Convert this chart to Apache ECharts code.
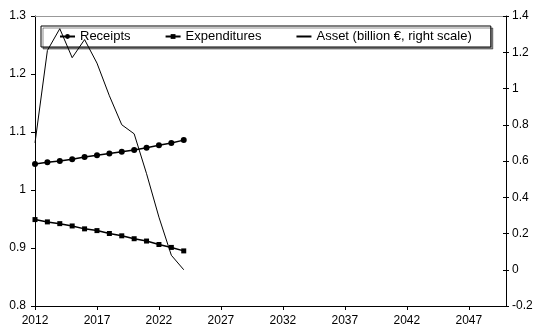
<!DOCTYPE html>
<html>
<head>
<meta charset="utf-8">
<script src="https://cdn.jsdelivr.net/npm/echarts@6/dist/echarts.min.js"></script>
<style>
  html, body { margin: 0; padding: 0; background: #fff; }
  #chart { width: 537px; height: 331px; }
</style>
</head>
<body>
<div id="chart"></div>
<script>
// values
const years = [2012, 2013, 2014, 2015, 2016, 2017, 2018, 2019, 2020, 2021, 2022, 2023, 2024]
const receipts = [1.045, 1.048, 1.050, 1.053, 1.057, 1.060, 1.063, 1.066, 1.069, 1.073, 1.077, 1.081, 1.086]
const expenditures = [0.949, 0.945, 0.942, 0.938, 0.933, 0.930, 0.925, 0.921, 0.916, 0.912, 0.906, 0.901, 0.895]
const asset = [0.70, 1.21, 1.33, 1.17, 1.27, 1.14, 0.96, 0.80, 0.75, 0.53, 0.29, 0.08, 0.00]
const leftTicks = { min: 0.8, max: 1.3, step: 0.1 }
const rightTicks = { min: -0.2, max: 1.4, step: 0.2 }

const pairs = vals => years.map((y, i) => [y, vals[i]])
const font = 'Liberation Sans, Arial, sans-serif'

const chart = echarts.init(document.getElementById('chart'), null, { renderer: 'canvas' })
chart.setOption({
  backgroundColor: '#fff',
  animation: false,
  textStyle: { fontFamily: font },
  grid: { left: 35, right: 31, top: 16, bottom: 25 },
  legend: {
    left: 41,
    top: 26,
    padding: [4, 19, 4, 18],
    itemGap: 34,
    itemWidth: 15,
    itemHeight: 6,
    backgroundColor: '#fff',
    borderColor: '#000',
    borderWidth: 1,
    borderRadius: 0,
    shadowColor: 'rgba(0,0,0,0.45)',
    shadowBlur: 0,
    shadowOffsetX: 2,
    shadowOffsetY: 2,
    textStyle: { fontSize: 13, color: '#000', fontFamily: font },
    data: [
      'Receipts',
      'Expenditures',
      { name: 'Asset (billion €, right scale)', itemStyle: { color: 'rgba(0,0,0,0)', borderColor: 'rgba(0,0,0,0)', borderWidth: 0 } }
    ]
  },
  xAxis: [{
    type: 'value',
    min: 2012,
    max: 2050,
    interval: 5,
    axisLine: { onZero: false, lineStyle: { color: '#000', width: 1 } },
    axisTick: { show: true, inside: false, length: 4, lineStyle: { color: '#000' } },
    axisLabel: { color: '#000', fontSize: 12, margin: 9, showMaxLabel: false, formatter: v => String(v) },
    splitLine: { show: false }
  }, {
    type: 'value',
    position: 'top',
    min: 2012,
    max: 2050,
    axisLine: { show: true, onZero: false, lineStyle: { color: '#999', width: 1 } },
    axisTick: { show: false },
    axisLabel: { show: false },
    splitLine: { show: false }
  }],
  yAxis: [{
    type: 'value',
    min: leftTicks.min,
    max: leftTicks.max,
    interval: leftTicks.step,
    axisLine: { show: true, onZero: false, lineStyle: { color: '#000', width: 1 } },
    axisTick: { show: true, length: 4, lineStyle: { color: '#000' } },
    axisLabel: { color: '#000', fontSize: 12, margin: 9 },
    splitLine: { show: false }
  }, {
    type: 'value',
    position: 'right',
    min: rightTicks.min,
    max: rightTicks.max,
    interval: rightTicks.step,
    axisLine: { show: true, onZero: false, lineStyle: { color: '#000', width: 1 } },
    axisTick: { show: true, length: 3, lineStyle: { color: '#000' } },
    axisLabel: { color: '#000', fontSize: 12, margin: 6 },
    splitLine: { show: false }
  }, {
    // inner half of the crossing ticks on the right axis
    type: 'value',
    position: 'right',
    min: rightTicks.min,
    max: rightTicks.max,
    interval: rightTicks.step,
    axisLine: { show: false, onZero: false },
    axisTick: { show: true, inside: true, length: 3, lineStyle: { color: '#000' } },
    axisLabel: { show: false },
    splitLine: { show: false }
  }],
  series: [{
    name: 'Receipts',
    type: 'line',
    yAxisIndex: 0,
    data: pairs(receipts),
    symbol: 'circle',
    symbolSize: 6,
    lineStyle: { color: '#000', width: 1.5 },
    itemStyle: { color: '#000' },
    z: 3
  }, {
    name: 'Expenditures',
    type: 'line',
    yAxisIndex: 0,
    data: pairs(expenditures),
    symbol: 'rect',
    symbolSize: 5,
    lineStyle: { color: '#000', width: 1.5 },
    itemStyle: { color: '#000' },
    z: 3
  }, {
    name: 'Asset (billion €, right scale)',
    type: 'line',
    yAxisIndex: 1,
    data: pairs(asset),
    symbol: 'none',
    showSymbol: false,
    lineStyle: { color: '#000', width: 1 },
    itemStyle: { color: '#000' },
    z: 4
  }]
})
</script>
</body>
</html>
